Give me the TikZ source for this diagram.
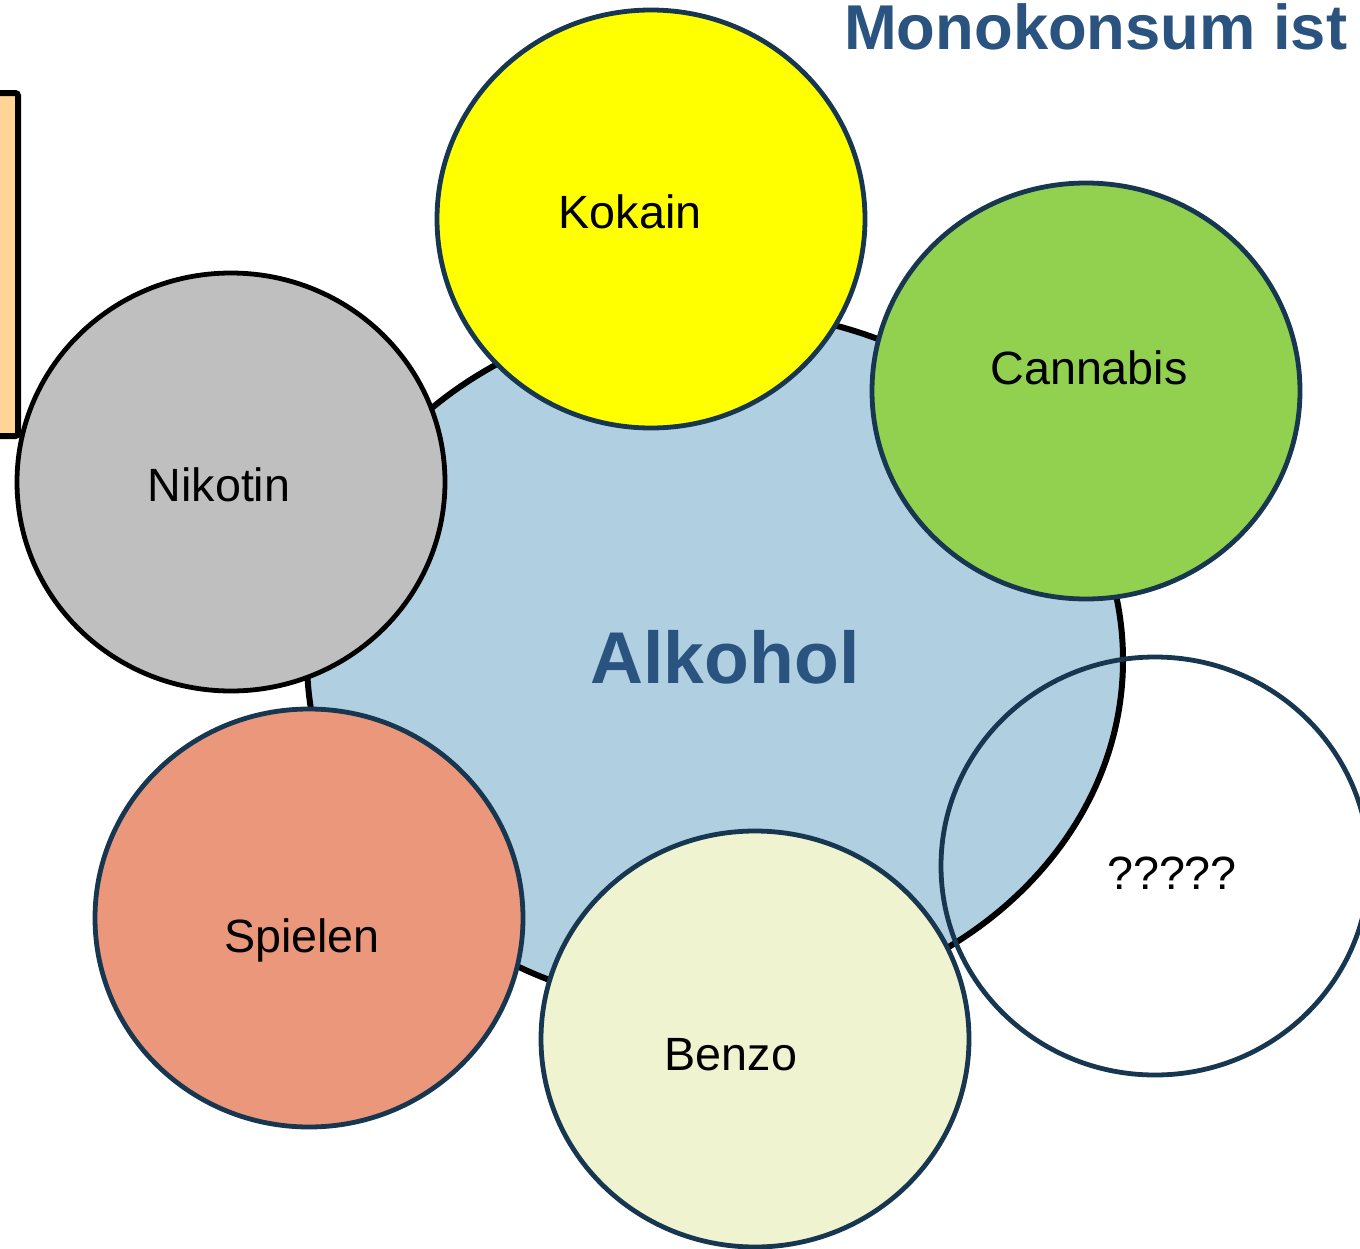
\documentclass[tikz,border=0pt]{standalone}
\usepackage{fontspec}
\setmainfont{Liberation Sans}
\usepackage{tikz}

\definecolor{alkblue}{HTML}{B0D0E2}
\definecolor{titleblue}{HTML}{2A5380}
\definecolor{rimnavy}{HTML}{17364F}
\definecolor{kokyellow}{HTML}{FFFF00}
\definecolor{canngreen}{HTML}{92D050}
\definecolor{nikgrey}{HTML}{BFBFBF}
\definecolor{spielsalmon}{HTML}{EA977C}
\definecolor{benzocream}{HTML}{EFF3D0}
\definecolor{boxorange}{HTML}{FFD597}

\tikzset{
  drug/.style = {line width = 3.6pt, draw = rimnavy},
  druglabel/.style = {font = \fontsize{35}{40}\selectfont, text = black}
}

\begin{document}
\begin{tikzpicture}[x = 0.75pt, y = -0.75pt]
        \useasboundingbox (0,0) rectangle (1360,1249);

        % box at the left edge
        \draw[line width = 4.5pt, fill = boxorange, rounded corners = 2pt] (-40,93) rectangle (18,436);

        % alkohol in the middle
        \draw[line width = 4.5pt, fill = alkblue] (715,660) ellipse (408 and 350);
        \node[font = \bfseries\fontsize{55}{60}\selectfont, text = titleblue] (alkohol) at (725,657) {Alkohol};

        % the other substances
        \draw[drug, fill = kokyellow] (651,219) ellipse (214 and 209);
        \node[druglabel] (kokain) at (630,212) {Kokain};

        \draw[drug, fill = canngreen] (1086,391) ellipse (214 and 208);
        \node[druglabel] (cannabis) at (1089,368) {Cannabis};

        \draw[line width = 3.6pt, fill = nikgrey] (231,482) ellipse (214 and 209);
        \node[druglabel] (nikotin) at (219,485) {Nikotin};

        \draw[drug, fill = spielsalmon] (309,918) ellipse (214 and 209);
        \node[druglabel] (spielen) at (302,940) {Spielen};

        \draw[drug, fill = benzocream] (755,1039) ellipse (214 and 208);
        \node[druglabel] (benzo) at (731,1055) {Benzo};

        \draw[drug] (1155,866) ellipse (214 and 209);
        \node[druglabel] (fragen) at (1172,873) {?????};

        % title at the top right
        \node[anchor = base east, font = \bfseries\fontsize{47.5}{52}\selectfont, text = titleblue] (titel) at (1352,49) {Monokonsum ist};
\end{tikzpicture}
\end{document}
